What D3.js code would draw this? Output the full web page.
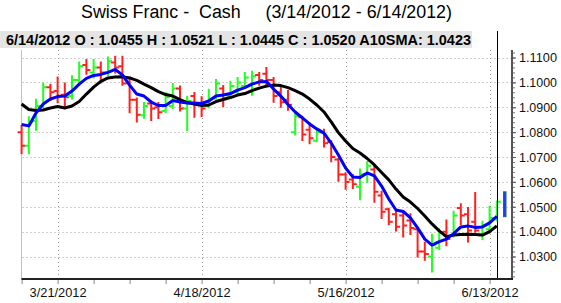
<!DOCTYPE html>
<html>
<head>
<meta charset="utf-8">
<script src="https://cdn.jsdelivr.net/npm/d3@7"></script>
<style>
  body { margin: 0; background: #fff; }
  svg { display: block; font-family: "Liberation Sans", Arial, sans-serif; }
</style>
</head>
<body>
<div id="graf"></div>
<script>
// daily bars, 3/14/2012 .. 6/14/2012 (weekdays)
const opens = [1.0800, 1.0745, 1.0845, 1.0905, 1.0980, 1.0965, 1.0950, 1.0945, 1.1010, 1.1070,
  1.1040, 1.1060, 1.1040, 1.1080, 1.1065, 1.1000, 1.0930, 1.0868, 1.0915, 1.0900,
  1.0885, 1.0905, 1.0975, 1.0895, 1.0945, 1.0915, 1.0905, 1.0935, 1.0975, 1.0945,
  1.0960, 1.0985, 1.0990, 1.1030, 1.1035, 1.1010, 1.0960, 1.0930, 1.0800, 1.0860,
  1.0810, 1.0765, 1.0800, 1.0760, 1.0690, 1.0630, 1.0610, 1.0580, 1.0630, 1.0650,
  1.0545, 1.0490, 1.0470, 1.0465, 1.0445, 1.0410, 1.0320, 1.0300, 1.0335, 1.0400,
  1.0385, 1.0495, 1.0470, 1.0440, 1.0385, 1.0410, 1.0455];
const highs = [1.0825, 1.0860, 1.0930, 1.0995, 1.0990, 1.1020, 1.0995, 1.1025, 1.1080, 1.1090,
  1.1090, 1.1080, 1.1100, 1.1103, 1.1103, 1.1020, 1.0935, 1.0917, 1.0922, 1.0917,
  1.0957, 1.0993, 1.0983, 1.0942, 1.0957, 1.0940, 1.0970, 1.1010, 1.0985, 1.1003,
  1.1018, 1.1038, 1.1043, 1.1038, 1.1058, 1.1018, 1.0983, 1.0965, 1.0880, 1.0862,
  1.0835, 1.0810, 1.0810, 1.0763, 1.0692, 1.0635, 1.0628, 1.0650, 1.0680, 1.0665,
  1.0560, 1.0492, 1.0482, 1.0478, 1.0470, 1.0410, 1.0355, 1.0387, 1.0410, 1.0445,
  1.0480, 1.0510, 1.0495, 1.0555, 1.0440, 1.0500, 1.0521];
const lows = [1.0715, 1.0715, 1.0810, 1.0900, 1.0930, 1.0920, 1.0900, 1.0935, 1.1000, 1.1035,
  1.1020, 1.1000, 1.1030, 1.1040, 1.0990, 1.0880, 1.0843, 1.0858, 1.0849, 1.0857,
  1.0880, 1.0897, 1.0887, 1.0808, 1.0862, 1.0865, 1.0900, 1.0935, 1.0905, 1.0940,
  1.0955, 1.0978, 1.0950, 1.0990, 1.0983, 1.0922, 1.0902, 1.0890, 1.0790, 1.0768,
  1.0755, 1.0763, 1.0742, 1.0683, 1.0605, 1.0572, 1.0575, 1.0530, 1.0600, 1.0520,
  1.0455, 1.0430, 1.0405, 1.0380, 1.0390, 1.0300, 1.0287, 1.0240, 1.0330, 1.0345,
  1.0380, 1.0430, 1.0360, 1.0400, 1.0370, 1.0395, 1.0445];
const closes = [1.0745, 1.0840, 1.0905, 1.0980, 1.0960, 1.0945, 1.0940, 1.1010, 1.1065, 1.1050,
  1.1060, 1.1040, 1.1085, 1.1060, 1.0995, 1.0930, 1.0870, 1.0905, 1.0895, 1.0880,
  1.0940, 1.0975, 1.0895, 1.0925, 1.0915, 1.0895, 1.0935, 1.0995, 1.0935, 1.0985,
  1.1000, 1.1020, 1.1025, 1.1010, 1.1010, 1.0945, 1.0920, 1.0910, 1.0865, 1.0790,
  1.0775, 1.0800, 1.0755, 1.0700, 1.0630, 1.0600, 1.0590, 1.0630, 1.0665, 1.0560,
  1.0480, 1.0440, 1.0420, 1.0425, 1.0415, 1.0320, 1.0310, 1.0345, 1.0395, 1.0370,
  1.0465, 1.0465, 1.0405, 1.0405, 1.0425, 1.0455, 1.0520];

// black: 10 day SMA, blue: fast average
const sma10 = [1.0913, 1.0891, 1.0887, 1.0889, 1.0897, 1.0903, 1.0897, 1.0905, 1.0923, 1.0953,
  1.0981, 1.1004, 1.1018, 1.1022, 1.1023, 1.1018, 1.1008, 1.0993, 1.0979, 1.0963,
  1.0951, 1.0945, 1.0931, 1.0919, 1.0913, 1.0907, 1.0909, 1.0923, 1.0931, 1.0939,
  1.0949, 1.0955, 1.0967, 1.0977, 1.0985, 1.0989, 1.0987, 1.0979, 1.0967, 1.0953,
  1.0933, 1.0909, 1.0881, 1.0841, 1.0798, 1.0764, 1.0734, 1.0716, 1.0694, 1.0668,
  1.0638, 1.0608, 1.0571, 1.0539, 1.0519, 1.0493, 1.0463, 1.0431, 1.0403, 1.0380,
  1.0386, 1.0388, 1.0389, 1.0388, 1.0386, 1.0400, 1.0423];
const smaFast = [1.0831, 1.0825, 1.0877, 1.0913, 1.0933, 1.0943, 1.0945, 1.0965, 1.0993, 1.1016,
  1.1028, 1.1032, 1.1040, 1.1052, 1.1030, 1.0989, 1.0953, 1.0945, 1.0921, 1.0907,
  1.0907, 1.0927, 1.0921, 1.0917, 1.0917, 1.0915, 1.0925, 1.0945, 1.0949, 1.0955,
  1.0969, 1.0979, 1.0993, 1.1002, 1.1004, 1.0973, 1.0945, 1.0911, 1.0881, 1.0857,
  1.0833, 1.0813, 1.0796, 1.0756, 1.0708, 1.0656, 1.0620, 1.0618, 1.0636, 1.0624,
  1.0583, 1.0531, 1.0487, 1.0481, 1.0455, 1.0415, 1.0370, 1.0346, 1.0360, 1.0370,
  1.0392, 1.0419, 1.0423, 1.0417, 1.0419, 1.0435, 1.0461];

const yTicks = [1.03, 1.04, 1.05, 1.06, 1.07, 1.08, 1.09, 1.10, 1.11];
const dateTicks = [5, 25, 45, 65];
const dateLabels = ["3/21/2012", "4/18/2012", "5/16/2012", "6/13/2012"];
const lastDate = "6/14/2012";
const lastRange = [1.0460, 1.0560];

const ancho_total = 561;
const alto_total = 303;

const svg = d3.select("#graf")
  .append("svg")
  .attr("width", ancho_total)
  .attr("height", alto_total);

const x = d3.scaleLinear().domain([0, 66]).range([21.6, 496.8]);
const y = d3.scaleLinear().domain([1.03, 1.11]).range([256.5, 57.5]);

const plot = { left: 21.5, right: 512, top: 50, bottom: 279 };

// title
svg.append("text")
  .attr("x", 81)
  .attr("y", 18)
  .style("white-space", "pre")
  .attr("font-size", "18px")
  .attr("fill", "#000")
  .attr("textLength", 371)
  .attr("lengthAdjust", "spacingAndGlyphs")
  .text("Swiss Franc -  Cash     (3/14/2012 - 6/14/2012)");

// info bar
const last = closes.length - 1;
svg.append("rect")
  .attr("x", 0).attr("y", 31)
  .attr("width", 472).attr("height", 17)
  .attr("fill", "#e4e4e4");
svg.append("text")
  .attr("x", 6)
  .attr("y", 44.5)
  .attr("font-size", "14.5px")
  .attr("font-weight", "bold")
  .attr("textLength", 465)
  .attr("lengthAdjust", "spacingAndGlyphs")
  .text(`${lastDate} O : ${opens[last].toFixed(4)} H : ${highs[last].toFixed(4)} L : ${lows[last].toFixed(4)} C : ${closes[last].toFixed(4)} A10SMA: ${sma10[last].toFixed(4)}`);

// grid
const grid = svg.append("g")
  .attr("stroke", "#a0a0a0")
  .attr("stroke-width", 1)
  .attr("stroke-dasharray", "1,3");
grid.selectAll(".h")
  .data(yTicks)
  .join("line")
  .attr("x1", plot.left + 1).attr("x2", plot.right - 1)
  .attr("y1", d => Math.round(y(d)) + 0.5)
  .attr("y2", d => Math.round(y(d)) + 0.5);
grid.selectAll(".v")
  .data(dateTicks)
  .join("line")
  .attr("x1", d => Math.round(x(d)) + 0.5)
  .attr("x2", d => Math.round(x(d)) + 0.5)
  .attr("y1", plot.top).attr("y2", plot.bottom);

// left border
svg.append("line")
  .attr("x1", plot.left).attr("x2", plot.left)
  .attr("y1", plot.top).attr("y2", plot.bottom)
  .attr("stroke", "#c0c0c0").attr("stroke-width", 1);

// OHLC bars
const bars = svg.append("g")
  .attr("fill", "none")
  .attr("stroke-width", 2);
bars.selectAll("path")
  .data(d3.range(closes.length))
  .join("path")
  .attr("stroke", i => closes[i] >= opens[i] ? "#22ff22" : "#ff2020")
  .attr("d", i => {
    const cx = x(i);
    return `M${cx},${y(highs[i]) - 1}V${y(lows[i]) + 1}` +
      `M${cx - 4},${y(opens[i])}H${cx}` +
      `M${cx},${y(closes[i])}H${cx + 4}`;
  });

// moving averages
const line = d3.line()
  .x((d, i) => x(i))
  .y(d => y(d));

svg.append("path")
  .datum(sma10)
  .attr("d", line)
  .attr("fill", "none")
  .attr("stroke", "#000")
  .attr("stroke-width", 3)
  .attr("stroke-linejoin", "round");

svg.append("path")
  .datum(smaFast)
  .attr("d", line)
  .attr("fill", "none")
  .attr("stroke", "#0000ff")
  .attr("stroke-width", 3)
  .attr("stroke-linejoin", "round");

// cursor on last bar
svg.append("line")
  .attr("x1", Math.round(x(last)) + 0.5).attr("x2", Math.round(x(last)) + 0.5)
  .attr("y1", 31).attr("y2", plot.bottom)
  .attr("stroke", "#000").attr("stroke-width", 1);

// last price marker
svg.append("rect")
  .attr("x", 503.5)
  .attr("y", y(lastRange[1]))
  .attr("width", 2.5)
  .attr("height", y(lastRange[0]) - y(lastRange[1]))
  .attr("fill", "#1a3cff")
  .attr("stroke", "#2a6a50")
  .attr("stroke-width", 1);

// right axis
const yMinor = d3.range(1.022, 1.1125, 0.002);
svg.append("g")
  .attr("transform", `translate(${plot.right}, 0)`)
  .call(d3.axisRight(y).tickValues(yMinor).tickSize(3).tickFormat(""))
  .call(g => g.select(".domain").remove())
  .call(g => g.selectAll("line").attr("stroke", "#777"));

svg.append("g")
  .attr("transform", `translate(${plot.right}, 0)`)
  .call(d3.axisRight(y).tickValues(yTicks).tickSize(4).tickPadding(3).tickFormat(d3.format(".4f")))
  .call(g => g.select(".domain").remove())
  .call(g => g.selectAll("line").attr("stroke", "#555"))
  .call(g => g.selectAll("text")
    .attr("font-family", "Liberation Sans, Arial, sans-serif")
    .attr("font-size", "13.5px")
    .attr("fill", "#111")
    .attr("textLength", 38)
    .attr("lengthAdjust", "spacingAndGlyphs"));

svg.append("line")
  .attr("x1", plot.right).attr("x2", plot.right)
  .attr("y1", plot.top).attr("y2", plot.bottom)
  .attr("stroke", "#555").attr("stroke-width", 2);

// bottom axis
svg.append("g")
  .attr("transform", `translate(0, ${plot.bottom})`)
  .call(d3.axisBottom(x).tickValues(d3.range(0, 67, 5)).tickSize(5).tickFormat(""))
  .call(g => g.select(".domain").remove())
  .call(g => g.selectAll("line").attr("stroke", "#888"));

svg.append("g")
  .attr("transform", `translate(0, ${plot.bottom})`)
  .call(d3.axisBottom(x).tickValues(dateTicks).tickSize(0).tickPadding(8)
    .tickFormat((d, i) => dateLabels[i]))
  .call(g => g.select(".domain").remove())
  .call(g => g.selectAll("text")
    .attr("font-family", "Liberation Sans, Arial, sans-serif")
    .attr("font-size", "13.5px")
    .attr("fill", "#111")
    .attr("textLength", 57)
    .attr("lengthAdjust", "spacingAndGlyphs"));

svg.append("line")
  .attr("x1", plot.left).attr("x2", plot.right + 1)
  .attr("y1", plot.bottom).attr("y2", plot.bottom)
  .attr("stroke", "#222").attr("stroke-width", 2);
</script>
</body>
</html>
